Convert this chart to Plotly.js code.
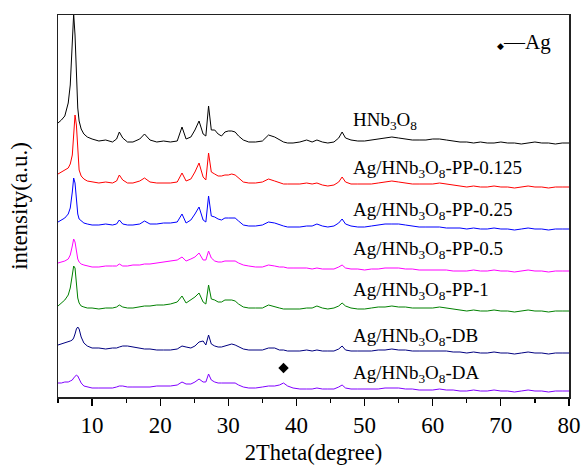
<!DOCTYPE html>
<html>
<head>
<meta charset="utf-8">
<script src="https://cdn.plot.ly/plotly-3.0.1.min.js"></script>
<style>html,body{margin:0;padding:0;background:#fff;}#chart{width:581px;height:465px;}</style>
</head>
<body>
<div id="chart"></div>
<script>
// 2Theta (degree) sample positions
var twoTheta = [5,5.5,6,6.5,6.8,7.1,7.3,7.5,7.7,7.9,8.1,8.4,8.8,9.3,10,11,12,13,13.6,14.0,14.5,15.2,16,17,17.7,18.5,19.5,20.5,21.5,22.5,23.2,23.8,24.5,25.1,25.7,26.3,26.7,27.1,27.5,28,28.5,29,29.5,30,30.5,31,31.5,32.2,33,34,35,35.9,36.8,37.5,38.1,38.7,39.5,40.5,41.5,42.3,43,43.8,44.6,45.5,46.2,46.7,47.2,48,49,50,51,52,53,54,55,56,57,58,59,60,61,62,63,64,65,66,67,68,69,70,71,72,73,74,75,76,77,78,79,80];

// Offset intensities (a.u.)
var hnb3o8 = [274,277,281,294,312,349,383,362,312,289,276,268,263,260,258,256,257,255,258,265,259,255,255,258,263,257,255,256,255,256,270,258,260,267,276,263,261,291,267,267,263,261,265,266,266,265,261,257,255,255,256,262,260,257,255,254,254,255,257,255,257,255,254,255,259,265,259,257,256,256,257,258,259,260,259,258,257,257,257,258,258,257,256,255,255,254,255,254,254,255,254,254,253,254,255,254,254,253,254,254];
var pp0125 = [223,225,227,229,233,242,262,282,272,242,227,221,218,216,215,214,215,214,216,222,217,214,214,216,219,215,214,214,214,215,224,216,218,225,234,220,217,244,225,223,221,221,222,222,223,222,219,215,214,214,215,218,216,214,213,213,213,213,214,213,214,212,211,212,215,220,215,213,213,213,213,214,215,216,215,214,213,213,213,213,214,213,212,211,210,211,210,210,211,210,210,209,210,211,210,210,209,210,210,210];
var pp025 = [175,177,179,183,189,205,219,214,194,183,178,176,174,173,172,172,173,172,173,177,173,172,172,173,176,173,173,174,174,175,183,174,177,183,190,177,175,201,181,180,178,177,179,179,179,179,176,172,171,171,172,175,174,172,171,170,170,170,171,171,173,171,170,171,174,178,173,171,170,170,171,172,173,173,173,172,171,170,170,170,170,169,169,169,168,169,168,168,169,168,168,167,168,169,168,168,167,168,168,168];
var pp05 = [134,135,136,138,142,151,158,155,145,138,135,133,132,131,130,130,131,131,131,133,131,131,132,132,133,133,134,135,136,137,140,136,138,140,144,137,137,146,139,136,135,135,136,136,136,136,134,132,131,130,130,132,131,130,130,129,129,129,129,128,129,128,128,128,130,132,129,128,128,127,128,128,129,129,129,128,128,127,127,127,127,127,126,126,126,127,126,126,127,126,126,125,126,127,126,126,125,126,126,126];
var pp1 = [91,94,97,102,109,122,131,129,112,99,94,91,90,89,89,88,89,89,90,92,90,89,89,90,91,91,92,92,93,95,101,94,97,100,104,95,93,112,98,97,95,95,97,97,97,96,93,90,89,89,89,92,90,89,88,88,88,88,89,89,91,89,88,89,91,94,91,89,88,88,89,90,90,91,90,90,89,89,89,89,90,89,88,87,86,87,86,86,87,86,86,85,86,87,86,86,85,86,86,86];
var db = [52,53,54,55,56,57,59,63,68,70,68,60,54,51,49,49,48,49,49,50,51,51,50,49,48,48,47,47,47,48,51,50,49,51,55,56,52,62,53,51,50,50,51,52,53,52,50,48,47,47,47,49,49,47,47,46,46,46,47,46,47,46,46,46,48,51,47,46,46,46,46,47,47,48,47,47,46,46,46,46,46,46,45,45,44,45,44,44,45,44,44,43,44,45,44,44,43,44,44,44];
var da = [14,14,15,15,16,17,19,21,22,21,18,14,11,10,9,9,9,9,10,11,11,10,10,10,10,10,11,11,11,12,15,13,13,15,18,15,15,23,17,15,14,14,14,14,14,14,12,10,9,9,10,11,11,12,14,11,9,8,8,8,9,8,8,8,10,12,9,8,8,8,8,8,9,9,9,8,8,7,7,7,8,7,7,6,6,7,6,6,7,6,6,5,6,7,6,6,5,6,6,6];

// Ag reflection marked on the DA pattern
var agPeakTheta = [38.1];
var agPeakMark = [29];

var seriesNames = ['HNb<sub>3</sub>O<sub>8</sub>','Ag/HNb<sub>3</sub>O<sub>8</sub>-PP-0.125','Ag/HNb<sub>3</sub>O<sub>8</sub>-PP-0.25','Ag/HNb<sub>3</sub>O<sub>8</sub>-PP-0.5','Ag/HNb<sub>3</sub>O<sub>8</sub>-PP-1','Ag/HNb<sub>3</sub>O<sub>8</sub>-DB','Ag/HNb<sub>3</sub>O<sub>8</sub>-DA'];
var seriesData = [hnb3o8, pp0125, pp025, pp05, pp1, db, da];
var seriesColors = ['#000000','#ff0000','#0000ff','#ff00ff','#008000','#000080','#8000ff'];
var labelY = [121,169,211,250,291,337,374]; // pixel rows of label centres

var FONT = 'Liberation Serif';
var plotTop = 15, plotBottom = 397, plotLeft = 57.5, plotRight = 569;

var traces = seriesData.map(function(d, i){
  return {x: twoTheta, y: d, type: 'scatter', mode: 'lines', name: seriesNames[i],
          line: {color: seriesColors[i], width: 1}, hoverinfo: 'x+name'};
});
traces.push({x: agPeakTheta, y: agPeakMark, type: 'scatter', mode: 'markers', name: 'Ag',
  marker: {symbol: 'diamond', size: 8, color: '#000'}});

var annotations = seriesNames.map(function(n, i){
  return {text: n, xref: 'paper', yref: 'paper', x: (351 - plotLeft)/(plotRight - plotLeft),
    y: (plotBottom - labelY[i])/(plotBottom - plotTop), xanchor: 'left', yanchor: 'middle',
    showarrow: false, font: {family: FONT, size: 19, color: '#000'}};
});
annotations.push({text: '<span style="font-size:9px">◆</span>—Ag', xref: 'paper', yref: 'paper',
  x: (495 - plotLeft)/(plotRight - plotLeft), y: (plotBottom - 42)/(plotBottom - plotTop),
  xanchor: 'left', yanchor: 'middle', showarrow: false, font: {family: FONT, size: 21, color: '#000'}});

var layout = {
  width: 581, height: 465,
  margin: {l: 57.5, r: 12, t: 15, b: 68, pad: 0},
  paper_bgcolor: '#fff', plot_bgcolor: '#fff',
  showlegend: false,
  font: {family: FONT, color: '#000'},
  xaxis: {range: [5, 80], tick0: 0, dtick: 10, ticks: 'outside', ticklen: 7, tickwidth: 1.2, tickcolor: '#000',
    minor: {dtick: 5, ticks: 'outside', ticklen: 4, tickwidth: 1.2, tickcolor: '#000'},
    showline: true, linecolor: '#222', linewidth: 1.5, mirror: true, showgrid: false, zeroline: false,
    tickfont: {family: FONT, size: 23, color: '#000'},
    title: {text: '2Theta(degree)', font: {family: FONT, size: 22.5, color: '#000'}, standoff: 8}},
  yaxis: {range: [0, 382], showticklabels: false, ticks: '', showline: true, linecolor: '#222', linewidth: 1.5,
    mirror: true, showgrid: false, zeroline: false,
    title: {text: 'intensity(a.u.)', font: {family: FONT, size: 23, color: '#000'}, standoff: 22}},
  annotations: annotations
};

Plotly.newPlot('chart', traces, layout, {displayModeBar: false, staticPlot: true});
</script>
</body>
</html>
